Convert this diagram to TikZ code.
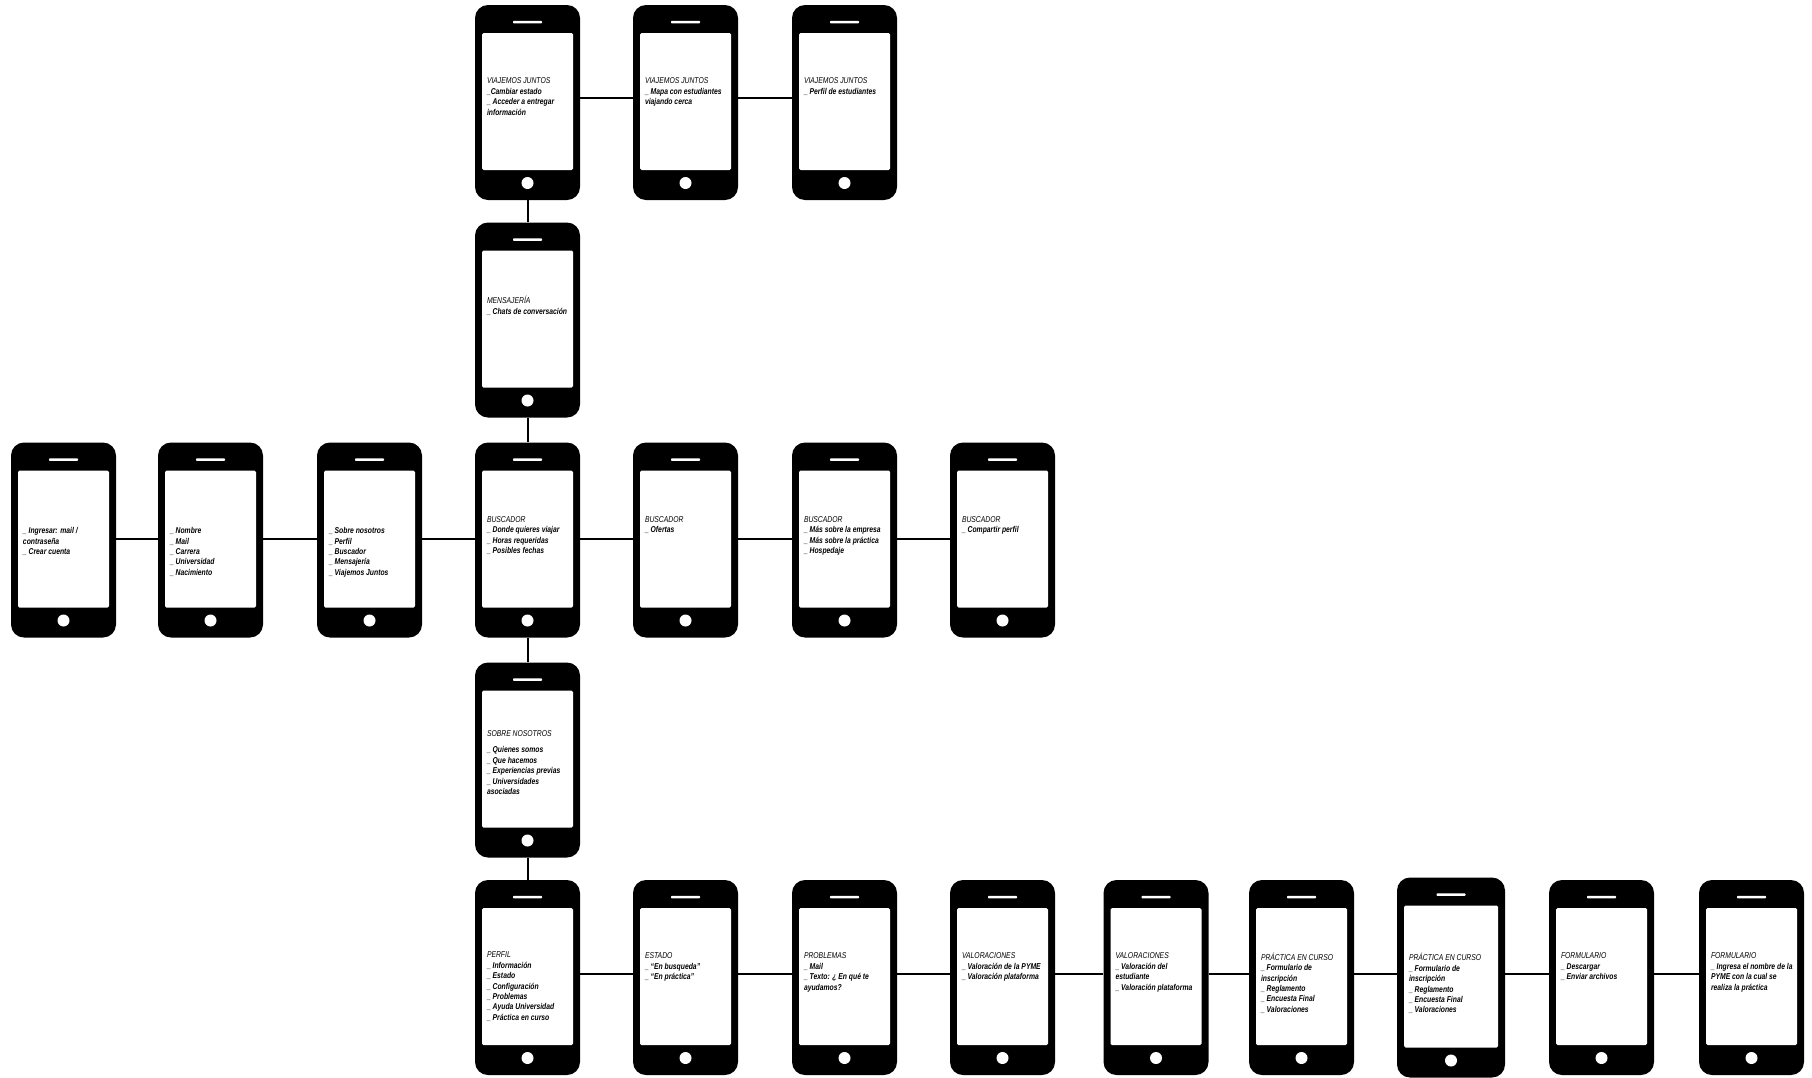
\documentclass[tikz,border=0pt]{standalone}
\usepackage{fontspec}
\setmainfont{Liberation Sans}[FakeStretch=0.8]
\newcommand{\ttl}[1]{{\mdseries #1}}
\begin{document}
\begin{tikzpicture}[x=1pt,y=-1pt,
  phone/.style={draw=none, fill=black, rounded corners=13pt, minimum width=105pt, minimum height=195pt, inner sep=0pt,
    path picture={
      \fill[white, rounded corners=1.5pt] ([shift={(7pt,-28pt)}]path picture bounding box.north west) rectangle ([shift={(-7pt,30pt)}]path picture bounding box.south east);
      \fill[white, rounded corners=0.8pt] ([shift={(-14.5pt,-15.8pt)}]path picture bounding box.north) rectangle ([shift={(14.5pt,-18.4pt)}]path picture bounding box.north);
      \fill[white] ([yshift=17pt]path picture bounding box.south) circle (6pt);
    }},
  bigphone/.style={phone, minimum width=108pt, minimum height=200pt},
  txt/.style={anchor=north west, inner sep=0pt, align=left, text=black,
    font=\fontsize{8.5pt}{10.4pt}\selectfont\itshape\bfseries},
  conn/.style={line width=2pt, black}]
\useasboundingbox (0,0) rectangle (1812,1077);
\fill[white] (0,0) rectangle (1812,1077);

% top row
\node[phone] (v1) at (527.5,102.5) {};
\node[phone] (v2) at (685.5,102.5) {};
\node[phone] (v3) at (844.5,102.5) {};
% mensajeria
\node[phone] (men) at (527.5,320) {};
% middle row
\node[phone] (m1) at (63.5,540) {};
\node[phone] (m2) at (210.5,540) {};
\node[phone] (m3) at (369.5,540) {};
\node[phone] (b1) at (527.5,540) {};
\node[phone] (b2) at (685.5,540) {};
\node[phone] (b3) at (844.5,540) {};
\node[phone] (b4) at (1002.5,540) {};
% sobre nosotros
\node[phone] (sob) at (527.5,760) {};
% bottom row
\node[phone] (p1) at (527.5,977.5) {};
\node[phone] (p2) at (685.5,977.5) {};
\node[phone] (p3) at (844.5,977.5) {};
\node[phone] (p4) at (1002.5,977.5) {};
\node[phone] (p5) at (1156,977.5) {};
\node[phone] (p6) at (1301.5,977.5) {};
\node[bigphone] (p7) at (1451,977.5) {};
\node[phone] (p8) at (1601.5,977.5) {};
\node[phone] (p9) at (1751.5,977.5) {};

% texts
\node[txt] (v1t) at ([shift={(12pt,-73pt)}]v1.north west) {\ttl{VIAJEMOS JUNTOS}\\\_Cambiar estado\\\_ Acceder a entregar\\información};
\node[txt] (v2t) at ([shift={(12pt,-73pt)}]v2.north west) {\ttl{VIAJEMOS JUNTOS}\\\_ Mapa con estudiantes\\viajando cerca};
\node[txt] (v3t) at ([shift={(12pt,-73pt)}]v3.north west) {\ttl{VIAJEMOS JUNTOS}\\\_ Perfil de estudiantes};
\node[txt] (ment) at ([shift={(12pt,-74pt)}]men.north west) {\ttl{MENSAJERÍA}\\\_ Chats de conversación};
\node[txt] (m1t) at ([shift={(12pt,-85pt)}]m1.north west) {\_ Ingresar: mail /\\contraseña\\\_ Crear cuenta};
\node[txt] (m2t) at ([shift={(12pt,-85pt)}]m2.north west) {\_ Nombre\\\_ Mail\\\_ Carrera\\\_ Universidad\\\_ Nacimiento};
\node[txt] (m3t) at ([shift={(12pt,-85pt)}]m3.north west) {\_ Sobre nosotros\\\_ Perfil\\\_ Buscador\\\_ Mensajería\\\_ Viajemos Juntos};
\node[txt] (b1t) at ([shift={(12pt,-74pt)}]b1.north west) {\ttl{BUSCADOR}\\\_ Donde quieres viajar\\\_ Horas requeridas\\\_ Posibles fechas};
\node[txt] (b2t) at ([shift={(12pt,-74pt)}]b2.north west) {\ttl{BUSCADOR}\\\_ Ofertas};
\node[txt] (b3t) at ([shift={(12pt,-74pt)}]b3.north west) {\ttl{BUSCADOR}\\\_ Más sobre la empresa\\\_ Más sobre la práctica\\\_ Hospedaje};
\node[txt] (b4t) at ([shift={(12pt,-74pt)}]b4.north west) {\ttl{BUSCADOR}\\\_ Compartir perfil};
\node[txt] (sobt) at ([shift={(12pt,-68pt)}]sob.north west) {\ttl{SOBRE NOSOTROS}\\[6pt]\_ Quienes somos\\\_ Que hacemos\\\_ Experiencias previas\\\_ Universidades\\asociadas};
\node[txt] (p1t) at ([shift={(12pt,-72pt)}]p1.north west) {\ttl{PERFIL}\\\_ Información\\\_ Estado\\\_ Configuración\\\_ Problemas\\\_ Ayuda Universidad\\\_ Práctica en curso};
\node[txt] (p2t) at ([shift={(12pt,-73pt)}]p2.north west) {\ttl{ESTADO}\\\_ “En busqueda”\\\_ “En práctica”};
\node[txt] (p3t) at ([shift={(12pt,-73pt)}]p3.north west) {\ttl{PROBLEMAS}\\\_ Mail\\\_ Texto: ¿ En qué te\\ayudamos?};
\node[txt] (p4t) at ([shift={(12pt,-73pt)}]p4.north west) {\ttl{VALORACIONES}\\\_ Valoración de la PYME\\\_ Valoración plataforma};
\node[txt] (p5t) at ([shift={(12pt,-73pt)}]p5.north west) {\ttl{VALORACIONES}\\\_ Valoración del\\estudiante\\\_ Valoración plataforma};
\node[txt] (p6t) at ([shift={(12pt,-73pt)}]p6.north west) {\ttl{PRÁCTICA EN CURSO}\\\_ Formulario de\\inscripción\\\_ Reglamento\\\_ Encuesta Final\\\_ Valoraciones};
\node[txt] (p7t) at ([shift={(12pt,-76pt)}]p7.north west) {\ttl{PRÁCTICA EN CURSO}\\\_ Formulario de\\inscripción\\\_ Reglamento\\\_ Encuesta Final\\\_ Valoraciones};
\node[txt] (p8t) at ([shift={(12pt,-73pt)}]p8.north west) {\ttl{FORMULARIO}\\\_ Descargar\\\_ Enviar archivos};
\node[txt] (p9t) at ([shift={(12pt,-73pt)}]p9.north west) {\ttl{FORMULARIO}\\\_ Ingresa el nombre de la\\PYME con la cual se\\realiza la práctica};

% connectors: top row
\draw[conn] ([yshift=4.5pt]v1.east) -- ([yshift=4.5pt]v2.west);
\draw[conn] ([yshift=4.5pt]v2.east) -- ([yshift=4.5pt]v3.west);
% vertical spine
\draw[conn] (v1.south) -- (men.north);
\draw[conn] (men.south) -- (b1.north);
\draw[conn] (b1.south) -- (sob.north);
\draw[conn] (sob.south) -- (p1.north);
% middle row
\draw[conn] ([yshift=1pt]m1.east) -- ([yshift=1pt]m2.west);
\draw[conn] ([yshift=1pt]m2.east) -- ([yshift=1pt]m3.west);
\draw[conn] ([yshift=1pt]m3.east) -- ([yshift=1pt]b1.west);
\draw[conn] ([yshift=1pt]b1.east) -- ([yshift=1pt]b2.west);
\draw[conn] ([yshift=1pt]b2.east) -- ([yshift=1pt]b3.west);
\draw[conn] ([yshift=1pt]b3.east) -- ([yshift=1pt]b4.west);
% bottom row
\draw[conn] ([yshift=3.5pt]p1.east) -- ([yshift=3.5pt]p2.west);
\draw[conn] ([yshift=3.5pt]p2.east) -- ([yshift=3.5pt]p3.west);
\draw[conn] ([yshift=3.5pt]p3.east) -- ([yshift=3.5pt]p4.west);
\draw[conn] ([yshift=3.5pt]p4.east) -- ([yshift=3.5pt]p5.west);
\draw[conn] ([yshift=3.5pt]p5.east) -- ([yshift=3.5pt]p6.west);
\draw[conn] ([yshift=3.5pt]p6.east) -- ([yshift=3.5pt]p7.west);
\draw[conn] ([yshift=3.5pt]p7.east) -- ([yshift=3.5pt]p8.west);
\draw[conn] ([yshift=3.5pt]p8.east) -- ([yshift=3.5pt]p9.west);
\end{tikzpicture}
\end{document}
